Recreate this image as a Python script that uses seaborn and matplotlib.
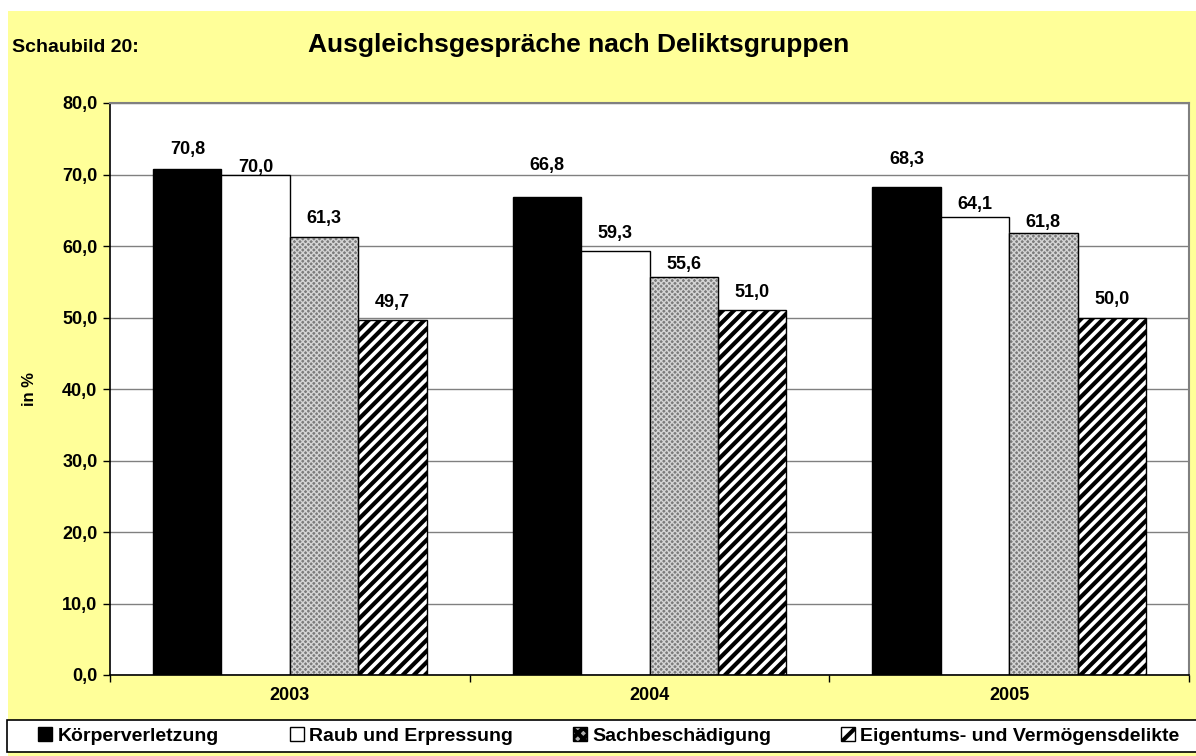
import pandas as pd
import matplotlib.pyplot as plt
import seaborn as sns
from matplotlib.patches import Rectangle, Patch

# Data
years = ["2003", "2004", "2005"]
groups = ["Körperverletzung", "Raub und Erpressung", "Sachbeschädigung",
          "Eigentums- und Vermögensdelikte"]
koerperverletzung = [70.8, 66.8, 68.3]
raub = [70.0, 59.3, 64.1]
sachbeschaedigung = [61.3, 55.6, 61.8]
eigentum = [49.7, 51.0, 50.0]

# label offsets above the bars (pixels), per group then year, as placed in the original
label_offsets = [[19, 32, 27], [7, 18, 12], [18, 13, 11], [17, 18, 18]]
# legend entry x positions (pixels)
legend_x = [38, 290, 573, 841]

df = pd.DataFrame({
    "Jahr": years * 4,
    "Gruppe": [g for g in groups for _ in years],
    "Wert": koerperverletzung + raub + sachbeschaedigung + eigentum,
})

sns.set_style("white")
plt.rcParams["font.family"] = ["Liberation Sans", "DejaVu Sans"]
plt.rcParams["font.weight"] = "bold"
for k in ["text.color", "axes.labelcolor", "xtick.color", "ytick.color"]:
    plt.rcParams[k] = "black"
plt.rcParams["hatch.linewidth"] = 3.0

fig = plt.figure(figsize=(11.96, 7.56), dpi=100, facecolor="white")
# yellow chart area
fig.patches.append(Rectangle((8 / 1196, 0), 1, 1 - 11 / 756, transform=fig.transFigure,
                             facecolor="#FFFF99", edgecolor="none", zorder=-2))
# legend box
fig.patches.append(Rectangle((7 / 1196, 4 / 756), 1.01, 32 / 756, transform=fig.transFigure,
                             facecolor="white", edgecolor="black", linewidth=1.2, zorder=-1))

ax = fig.add_axes([110 / 1196, 1 - 675 / 756, 1079 / 1196, 572 / 756])
ax.set_facecolor("white")

sns.barplot(data=df, x="Jahr", y="Wert", hue="Gruppe", hue_order=groups,
            order=years, width=0.76, ax=ax, legend=False, errorbar=None,
            edgecolor="black", linewidth=1)

styles = [
    dict(facecolor="black", hatch=None, edgecolor="black", hlw=1),
    dict(facecolor="white", hatch=None, edgecolor="black", hlw=1),
    dict(facecolor="#7c7c7c", hatch="xxxxxx", edgecolor="#d4d4d4", hlw=1.0),
    dict(facecolor="white", hatch="///", edgecolor="black", hlw=3.0),
]


def set_hlw(p, lw):
    if hasattr(p, "set_hatch_linewidth"):
        p.set_hatch_linewidth(lw)
    else:
        p._hatch_linewidth = lw


for cont, st, offs in zip(ax.containers, styles, label_offsets):
    for p, off in zip(cont, offs):
        p.set_facecolor(st["facecolor"])
        p.set_edgecolor(st["edgecolor"])
        if st["hatch"]:
            p.set_hatch(st["hatch"])
            set_hlw(p, st["hlw"])
        if st["edgecolor"] != "black":
            ax.add_patch(Rectangle(p.get_xy(), p.get_width(), p.get_height(),
                                   fill=False, edgecolor="black", linewidth=1, zorder=3))
        h = p.get_height()
        ax.annotate(f"{h:.1f}".replace(".", ","), xy=(p.get_x() + p.get_width() / 2, h),
                    xytext=(0, off * 0.72), textcoords="offset points",
                    ha="center", va="center", fontsize=13, fontweight="bold")

ax.set_ylim(0, 80)
ax.set_xlim(-0.5, 2.5)
ax.set_yticks(range(0, 81, 10))
ax.set_yticklabels([f"{v:.1f}".replace(".", ",") for v in range(0, 81, 10)],
                   fontsize=13, fontweight="bold")
ax.yaxis.grid(True, color="#808080", linewidth=1)
ax.set_axisbelow(True)

ax.set_xticks([0, 1, 2])
ax.set_xticklabels(years, fontsize=13, fontweight="bold")
ax.tick_params(axis="x", length=0, pad=9)
ax.tick_params(axis="y", length=5, width=1, direction="out", left=True, color="black", pad=4)
# category separators
ax.set_xticks([-0.5, 0.5, 1.5, 2.5], minor=True)
ax.tick_params(axis="x", which="minor", length=5, width=1, direction="out", bottom=True)

for side in ["top", "right"]:
    ax.spines[side].set_color("#808080")
    ax.spines[side].set_linewidth(1.5)
for side in ["left", "bottom"]:
    ax.spines[side].set_color("black")
    ax.spines[side].set_linewidth(1.2)

ax.set_xlabel("")
ax.set_ylabel("in %", fontsize=12, fontweight="bold", labelpad=18)

fig.text(12 / 1196, 1 - 47 / 756, "Schaubild 20:", fontsize=14, fontweight="bold",
         va="center", ha="left")
fig.text(579 / 1196, 1 - 45 / 756, "Ausgleichsgespräche nach Deliktsgruppen",
         fontsize=19, fontweight="bold", va="center", ha="center")

handle_styles = [
    dict(facecolor="black", hatch=None),
    dict(facecolor="white", hatch=None),
    dict(facecolor="#b0b0b0", hatch="xxx"),
    dict(facecolor="white", hatch="//"),
]
for hs, name, lx in zip(handle_styles, groups, legend_x):
    leg = fig.legend([Patch(edgecolor="black", **hs)], [name], loc="center left",
                     bbox_to_anchor=(lx / 1196, 20 / 756), frameon=False, fontsize=14,
                     handlelength=0.7, handleheight=0.7, handletextpad=0.3,
                     borderpad=0, borderaxespad=0)
    for t in leg.get_texts():
        t.set_fontweight("bold")

fig.savefig("out.png", dpi=100)
